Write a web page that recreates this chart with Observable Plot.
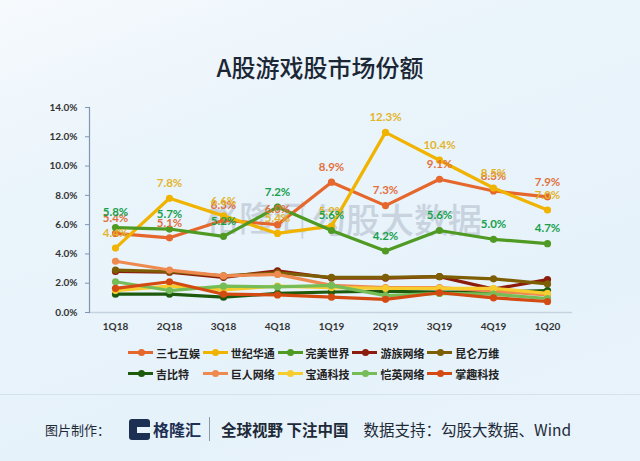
<!DOCTYPE html>
<html><head><meta charset="utf-8">
<script src="https://cdn.jsdelivr.net/npm/d3@7"></script>
<script src="https://cdn.jsdelivr.net/npm/@observablehq/plot@0.6"></script>
<style>
html,body{margin:0;padding:0;}
body{width:640px;height:461px;overflow:hidden;font-family:Lato,"Noto Sans CJK SC",sans-serif;}
#page{position:relative;width:640px;height:461px;overflow:hidden;
  background:linear-gradient(160deg,#f6fafd 0%,#eaf4fb 30%,#e6f2fa 70%,#e9f3fb 100%);}
#title{position:absolute;left:0;top:49px;width:640px;text-align:center;font:500 24px "Noto Sans CJK SC",sans-serif;color:#1c2735;line-height:36px;}
#wm{position:absolute;left:0;top:0;width:640px;height:461px;pointer-events:none;}
#wm .t{position:absolute;font:500 34px "Noto Sans CJK SC",sans-serif;color:#a9b4c4;opacity:0.5;white-space:nowrap;}
#chart{position:absolute;left:0;top:90px;}
#legend{position:absolute;left:128px;top:342px;width:400px;}
.lrow{display:flex;height:21px;align-items:center;}
.li{width:74.8px;display:flex;align-items:center;}
.sw{position:relative;width:25px;height:3px;margin-right:3px;}
.sw i{position:absolute;left:9.5px;top:-2px;width:7px;height:7px;border-radius:50%;}
.lt{font:700 11px "Noto Sans CJK SC",sans-serif;color:#222;white-space:nowrap;}
#sep{position:absolute;left:0;top:394px;width:640px;height:1px;background:#d3e2ee;}
#footer{position:absolute;left:45px;top:417px;height:24px;display:flex;align-items:center;white-space:nowrap;color:#1e2a38;}
.f1{font:400 13px "Noto Sans CJK SC",sans-serif;}
.logo{width:21px;height:21px;background:#1d2f52;border-radius:3px;margin-left:19px;position:relative;}
.logo i{position:absolute;left:8px;top:8px;width:13px;height:6px;background:#e9f3fb;}
.lg{font:700 16px "Noto Sans CJK SC",sans-serif;color:#1d2f52;margin-left:3px;}
.bar{width:1px;height:24px;background:#8c98a8;margin:0 11px 0 8px;}
.f2{font:700 15.5px "Noto Sans CJK SC",sans-serif;}
.f3{font:400 15.5px "Noto Sans CJK SC",sans-serif;margin-left:15px;}
</style>
</head><body>
<div id="page">
  <div id="title">A股游戏股市场份额</div>
  <div id="wm">
    <div class="t" style="left:205px;top:192px;">格隆汇</div>
    <div class="t" style="left:298px;top:190px;font-weight:300;">|</div>
    <div class="t" style="left:312px;top:194px;">勾股大数据</div>
  </div>
  <div id="chart"></div>
  <div id="legend"></div>
  <div id="sep"></div>
  <div id="footer">
    <span class="f1">图片制作：</span>
    <span class="logo"><i></i></span>
    <span class="lg">格隆汇</span>
    <span class="bar"></span>
    <span class="f2">全球视野 下注中国</span>
    <span class="f3">数据支持：勾股大数据、Wind</span>
  </div>
</div>
<script>
// ---- data ----
const quarters = ["1Q18","2Q18","3Q18","4Q18","1Q19","2Q19","3Q19","4Q19","1Q20"];
const seriesNames = ["三七互娱","世纪华通","完美世界","游族网络","昆仑万维","吉比特","巨人网络","宝通科技","恺英网络","掌趣科技"];
const sanqi   = [5.4, 5.1, 6.3, 6.0, 8.9, 7.3, 9.1, 8.3, 7.9];
const shiji   = [4.4, 7.8, 6.6, 5.4, 5.9, 12.3, 10.4, 8.5, 7.0];
const wanmei  = [5.8, 5.7, 5.2, 7.2, 5.6, 4.2, 5.6, 5.0, 4.7];
const youzu   = [2.8, 2.75, 2.4, 2.85, 2.35, 2.35, 2.45, 1.6, 2.25];
const kunlun  = [2.9, 2.8, 2.5, 2.7, 2.4, 2.4, 2.45, 2.3, 1.95];
const jibite  = [1.25, 1.25, 1.05, 1.3, 1.4, 1.45, 1.4, 1.4, 1.5];
const juren   = [3.5, 2.9, 2.5, 2.6, 1.85, 1.7, 1.7, 1.45, 1.2];
const baotong = [1.5, 1.8, 1.55, 1.8, 1.7, 1.65, 1.65, 1.65, 1.3];
const kaiying = [2.1, 1.5, 1.8, 1.75, 1.85, 1.15, 1.3, 1.25, 0.95];
const zhangqu = [1.65, 2.1, 1.25, 1.2, 1.05, 0.9, 1.35, 1.0, 0.75];
const labeledSeries = ["三七互娱","世纪华通","完美世界"];
const yTicks = [0, 2, 4, 6, 8, 10, 12, 14];

// ---- styles ----
const seriesColors = ["#e5672b","#f0b400","#4f9a22","#8c1c0c","#7d5e05","#1d5a0e","#ee8a50","#f7cc2e","#76bd58","#d44b12"];
const labelColors = {"三七互娱":"#e2703c","世纪华通":"#e3b52a","完美世界":"#17a04c"};

const valuesBySeries = [sanqi, shiji, wanmei, youzu, kunlun, jibite, juren, baotong, kaiying, zhangqu];
const rows = seriesNames.map((name, i) => quarters.map((q, j) => ({name, q, v: valuesBySeries[i][j]})));

const marks = [
  Plot.ruleY([0], {stroke: "#c5d3e1", strokeWidth: 1.5}),
  Plot.frame({anchor: "left", stroke: "#7f95b2", strokeWidth: 1.2}),
  Plot.axisY({ticks: yTicks, tickFormat: d => d.toFixed(1) + "%", tickSize: 4, tickPadding: 8,
    fontSize: 10, fontWeight: "bold", fill: "#333", stroke: "#7f95b2"}),
  Plot.axisX({tickSize: 0, tickPadding: 10, fontSize: 10, fontWeight: "bold", fill: "#333"})
];
rows.forEach(data => {
  marks.push(Plot.line(data, {x: "q", y: "v", stroke: "name", strokeWidth: 3.2, strokeLinejoin: "round"}));
  marks.push(Plot.dot(data, {x: "q", y: "v", fill: "name", r: 3.6}));
});
rows.filter(d => labeledSeries.includes(d[0].name)).forEach(data => {
  marks.push(Plot.text(data, {x: "q", y: "v", text: d => d.v.toFixed(1) + "%", dy: -15,
    fill: labelColors[data[0].name], fontSize: 11.5, fontWeight: "bold"}));
});

const chart = Plot.plot({
  width: 640, height: 250,
  marginTop: 17, marginBottom: 28, marginLeft: 89, marginRight: 68,
  style: {background: "transparent", fontFamily: "Lato, 'Noto Sans CJK SC', sans-serif", overflow: "visible"},
  x: {type: "point", domain: quarters, padding: 0.44, label: null},
  y: {domain: [0, 14], label: null},
  color: {domain: seriesNames, range: seriesColors},
  marks
});
document.getElementById("chart").appendChild(chart);

// legend
const legend = document.getElementById("legend");
for (let r = 0; r < 2; r++) {
  const row = document.createElement("div");
  row.className = "lrow";
  seriesNames.slice(r * 5, r * 5 + 5).forEach((name) => {
    const i = seriesNames.indexOf(name);
    const item = document.createElement("div");
    item.className = "li";
    item.innerHTML = `<span class="sw" style="background:${seriesColors[i]}"><i style="background:${seriesColors[i]}"></i></span><span class="lt">${name}</span>`;
    row.appendChild(item);
  });
  legend.appendChild(row);
}
</script>
</body></html>
